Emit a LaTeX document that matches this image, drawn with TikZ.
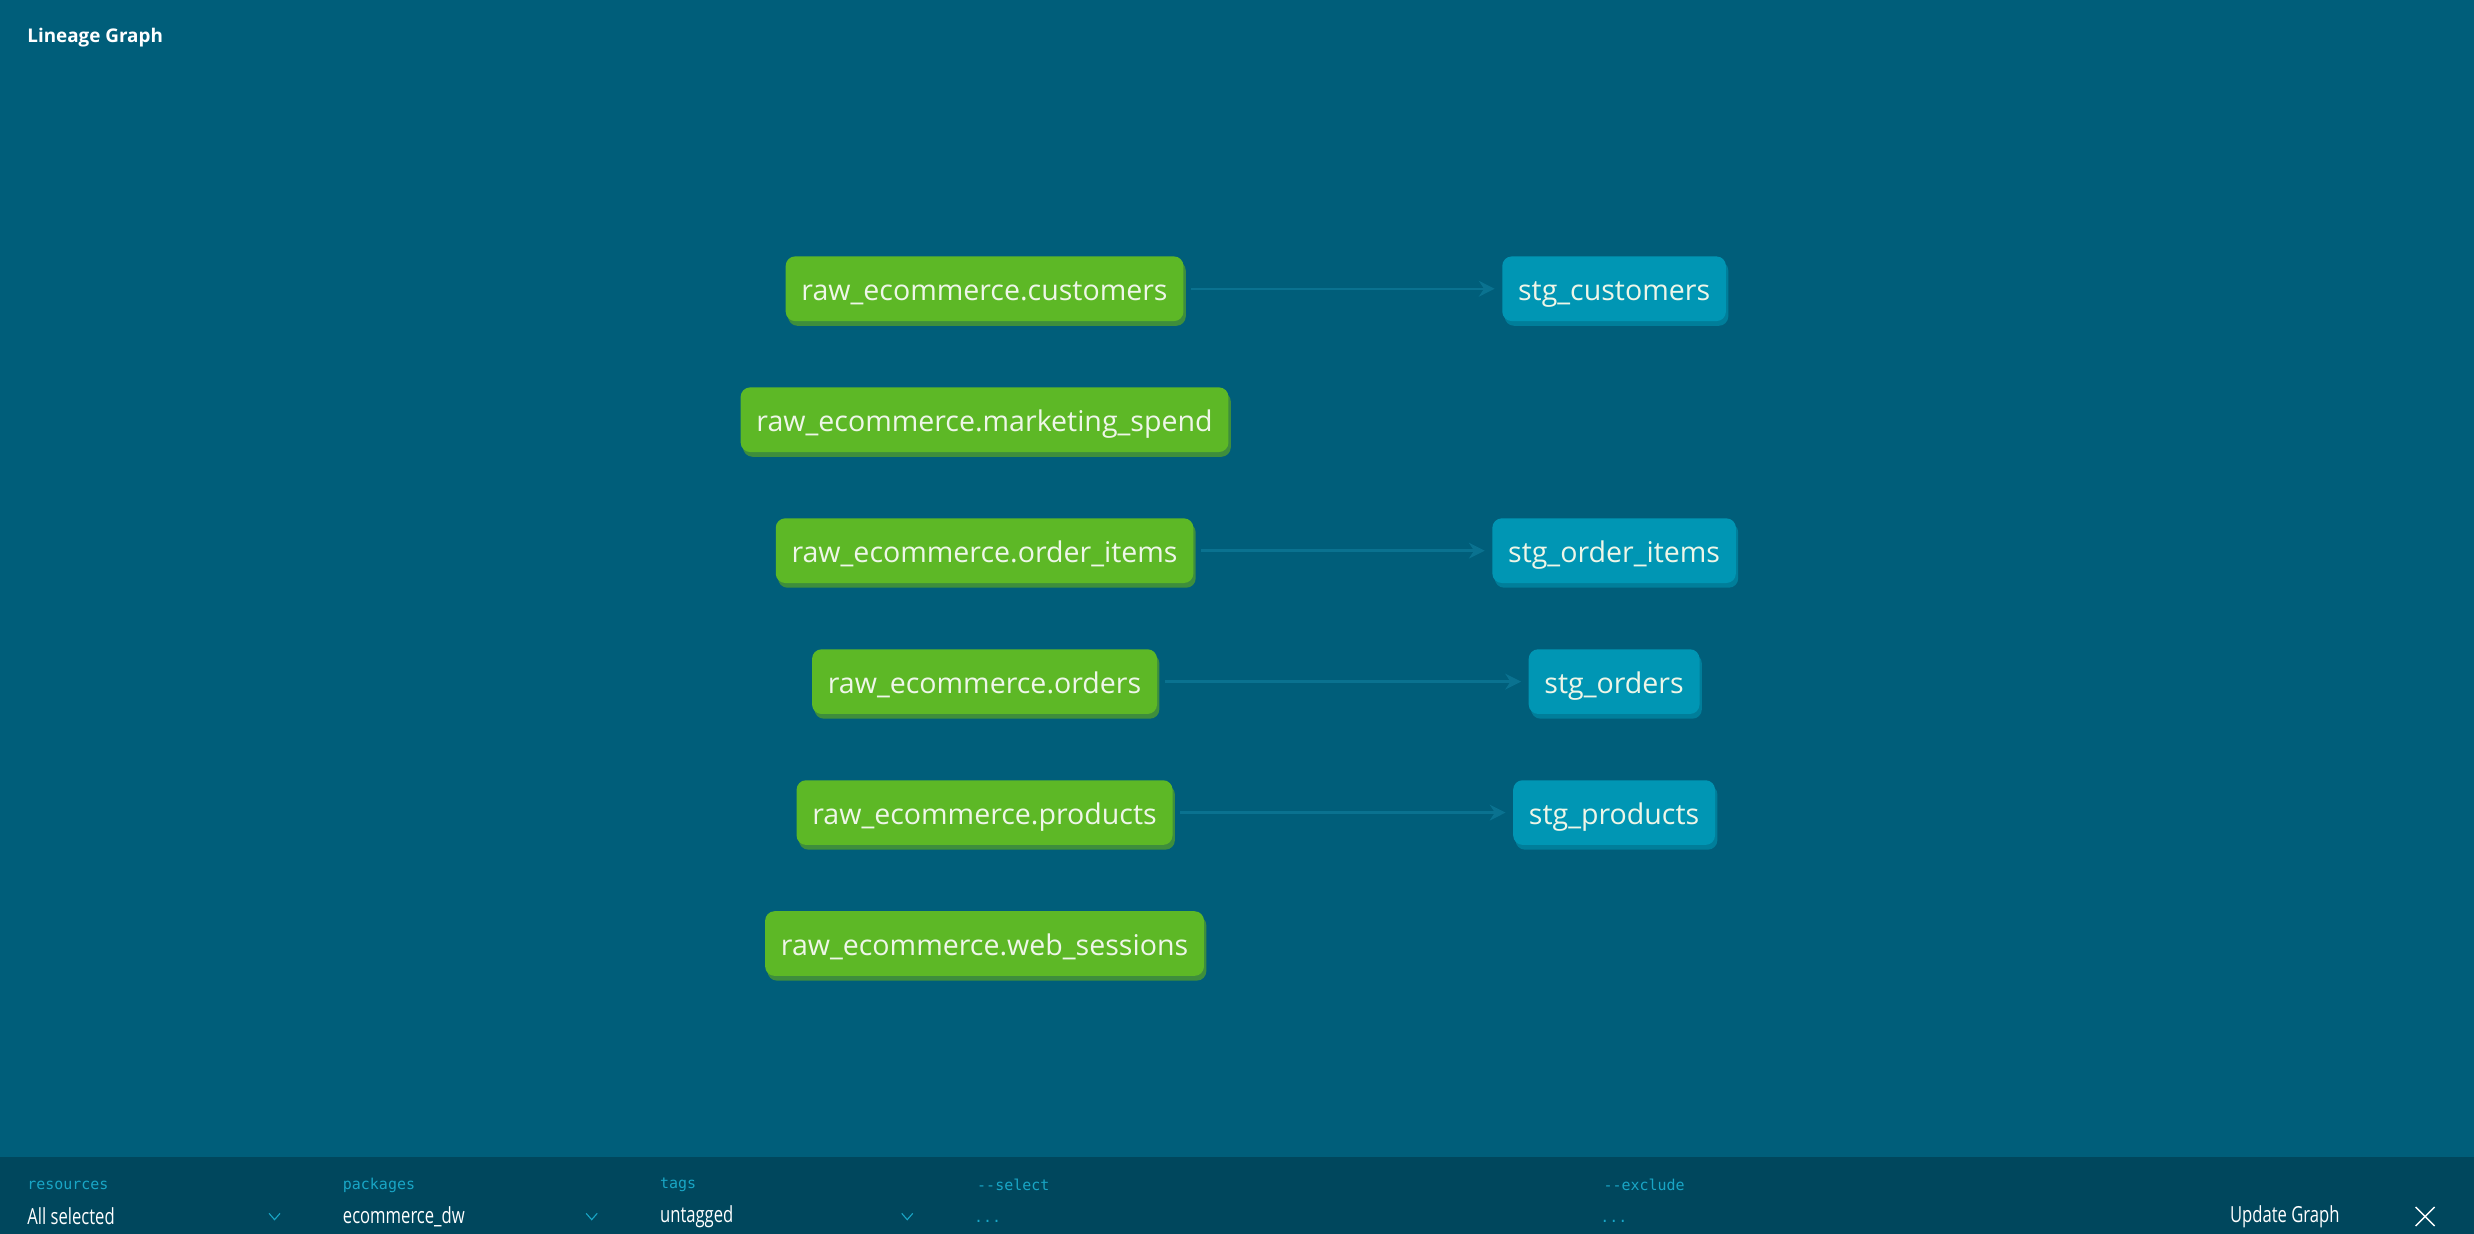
\documentclass[tikz,border=0pt]{standalone}
\usepackage{fontspec}
\setmainfont{Open Sans}
\newfontfamily\barfont[FakeStretch=0.75]{Open Sans}
\setmonofont{DejaVu Sans Mono}
\usetikzlibrary{arrows.meta,shadows,positioning}

\definecolor{canvasbg}{HTML}{005E7A}
\definecolor{barbg}{HTML}{00475D}
\definecolor{rawgreen}{HTML}{5DB826}
\definecolor{rawshadow}{HTML}{3E8E3C}
\definecolor{stgblue}{HTML}{0096B4}
\definecolor{stgshadow}{HTML}{007E9A}
\definecolor{nodetext}{HTML}{EEF6E8}
\definecolor{edgeblue}{HTML}{0A7290}
\definecolor{labelteal}{HTML}{19A6C6}

\begin{document}
\begin{tikzpicture}[x=0.02cm,y=-0.02cm,
    model/.style={rectangle,rounded corners=0.12cm,text=nodetext,minimum height=0.82cm,
      inner xsep=0.2cm,text height=1em,text depth=0.15em,font=\fontsize{10.3}{12}\selectfont},
    raw/.style={model,fill=rawgreen,
      drop shadow={shadow xshift=0.03cm,shadow yshift=-0.06cm,fill=rawshadow,opacity=1}},
    stg/.style={model,fill=stgblue,
      drop shadow={shadow xshift=0.03cm,shadow yshift=-0.06cm,fill=stgshadow,opacity=1}},
    edge/.style={-{Stealth[length=0.2cm,width=0.2cm]},line width=0.9pt,draw=edgeblue,
      shorten <=0.09cm,shorten >=0.09cm},
    barlabel/.style={anchor=west,inner sep=0pt,text=labelteal,font=\ttfamily\fontsize{5.4}{6}\selectfont},
    barvalue/.style={anchor=west,inner sep=0pt,text=white,font=\barfont\fontsize{8}{9}\selectfont}]

  % canvas
  \fill[canvasbg] (0,0) rectangle (1568,782);
  \useasboundingbox (0,0) rectangle (1568,782);
  \node[anchor=west,inner sep=0pt,text=white,font=\bfseries\fontsize{6.8}{8}\selectfont] (title) at (17,24) {Lineage Graph};

  % sources
  \node[raw] (rawcustomers) at (624,183) {raw\_ecommerce.customers};
  \node[raw] (rawmarketing) at (624,266) {raw\_ecommerce.marketing\_spend};
  \node[raw] (raworderitems) at (624,349) {raw\_ecommerce.order\_items};
  \node[raw] (raworders) at (624,432) {raw\_ecommerce.orders};
  \node[raw] (rawproducts) at (624,515) {raw\_ecommerce.products};
  \node[raw] (rawsessions) at (624,598) {raw\_ecommerce.web\_sessions};

  % staging models
  \node[stg] (stgcustomers) at (1023,183) {stg\_customers};
  \node[stg] (stgorderitems) at (1023,349) {stg\_order\_items};
  \node[stg] (stgorders) at (1023,432) {stg\_orders};
  \node[stg] (stgproducts) at (1023,515) {stg\_products};

  \draw[edge] (rawcustomers) -- (stgcustomers);
  \draw[edge] (raworderitems) -- (stgorderitems);
  \draw[edge] (raworders) -- (stgorders);
  \draw[edge] (rawproducts) -- (stgproducts);

  % selector bar
  \fill[barbg] (0,733) rectangle (1568,782);
  \node[barlabel] (reslabel) at (17,751) {resources};
  \node[barlabel] (pkglabel) at (217,751) {packages};
  \node[barlabel] (taglabel) at (418,751) {tags};
  \node[barlabel] (sellabel) at (619,751) {-{}-select};
  \node[barlabel] (exclabel) at (1016,751) {-{}-exclude};
  \node[barvalue] (resvalue) at (17,771) {All selected};
  \node[barvalue] (pkgvalue) at (217,771) {ecommerce\_dw};
  \node[barvalue] (tagvalue) at (418,771) {untagged};
  \node[barlabel] (selvalue) at (617,774) {...};
  \node[barlabel] (excvalue) at (1014,774) {...};
  \node[barvalue] (update) at (1413,771) {Update Graph};
  \foreach \cx in {174,375,575}
    \draw[labelteal,line width=0.4pt] (\cx-3.5,769) -- (\cx,773) -- (\cx+3.5,769);
  \draw[white,line width=0.5pt] (1531,765) -- (1543,777) (1531,777) -- (1543,765);
\end{tikzpicture}
\end{document}
